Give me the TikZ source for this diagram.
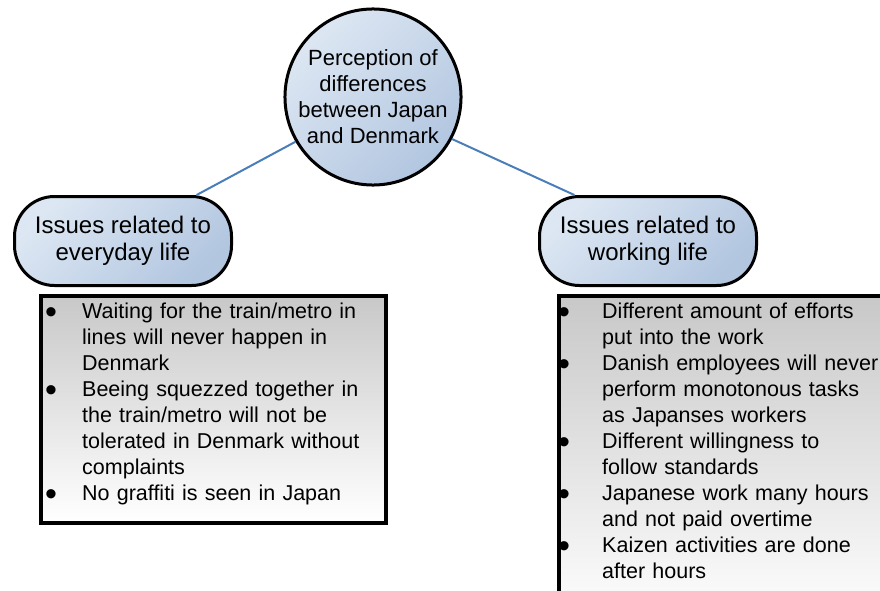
\documentclass[tikz,border=0pt]{standalone}
\usepackage{fontspec}
\setmainfont{Liberation Sans}
\usepackage{tikz}

\definecolor{linkblue}{HTML}{4A7EBB}
\definecolor{bubbletop}{HTML}{DDE7F3}
\definecolor{bubblebottom}{HTML}{B2C6E0}
\definecolor{boxgray}{HTML}{C8C8C8}

% one bullet point with hanging indent
\newcommand{\issueitem}[2][37pt]{\par\noindent\hangindent=#1\hangafter=1%
  \makebox[#1][l]{\raisebox{-5pt}{\fontsize{34}{26}\selectfont\textbullet}}#2\par}

\begin{document}
\begin{tikzpicture}[x=1pt, y=-1pt,
  bubble/.style={draw=black, line width=3pt, top color=bubbletop,
    bottom color=bubblebottom, shading angle=45, align=center, inner sep=0pt},
  link/.style={draw=linkblue, line width=2pt},
  listbox/.style={draw=black, line width=3.5pt, top color=boxgray,
    bottom color=white, anchor=north west, inner sep=0pt,
    preaction={fill=black!35, transform canvas={shift={(2pt,-2pt)}}}},
  listtext/.style={anchor=north west, inner sep=0pt, text width=420pt,
    font=\fontsize{21.5}{26}\selectfont}]

\useasboundingbox (0,0) rectangle (880,591);
\clip (0,0) rectangle (880,591);

% Central topic
\node[bubble, circle, minimum size=172pt, font=\fontsize{22}{26}\selectfont]
  (perception) at (373,97) {Perception of\\differences\\between Japan\\and Denmark};

% The two branches
\node[bubble, rounded corners=40pt, minimum width=217pt, minimum height=89pt,
  font=\fontsize{24}{27}\selectfont] (everyday) at (123,241) {Issues related to\\everyday life};
\node[bubble, rounded corners=40pt, minimum width=217pt, minimum height=89pt,
  font=\fontsize{24}{27}\selectfont] (working) at (648,241) {Issues related to\\working life};

% Connectors from topic to branches
\draw[link] (perception.210) -- (everyday.32);
\draw[link] (perception.332) -- (working.148);

% Boxes with the points under each branch
\node[listbox, minimum width=345pt, minimum height=227pt] (everydaybox) at (39,294) {};
\node[listbox, minimum width=360pt, minimum height=330pt] (workingbox) at (557,294) {};

\node[listtext] (everydaytext) at (45,292) {%
  \issueitem{Waiting for the train/metro in\newline lines will never happen in\newline Denmark}
  \issueitem{Beeing squezzed together in\newline the train/metro will not be\newline tolerated in Denmark without\newline complaints}
  \issueitem{No graffiti is seen in Japan}};

\node[listtext] (workingtext) at (558,292) {%
  \issueitem[44pt]{Different amount of efforts\newline put into the work}
  \issueitem[44pt]{Danish employees will never\newline perform monotonous tasks\newline as Japanses workers}
  \issueitem[44pt]{Different willingness to\newline follow standards}
  \issueitem[44pt]{Japanese work many hours\newline and not paid overtime}
  \issueitem[44pt]{Kaizen activities are done\newline after hours}};

\end{tikzpicture}
\end{document}
